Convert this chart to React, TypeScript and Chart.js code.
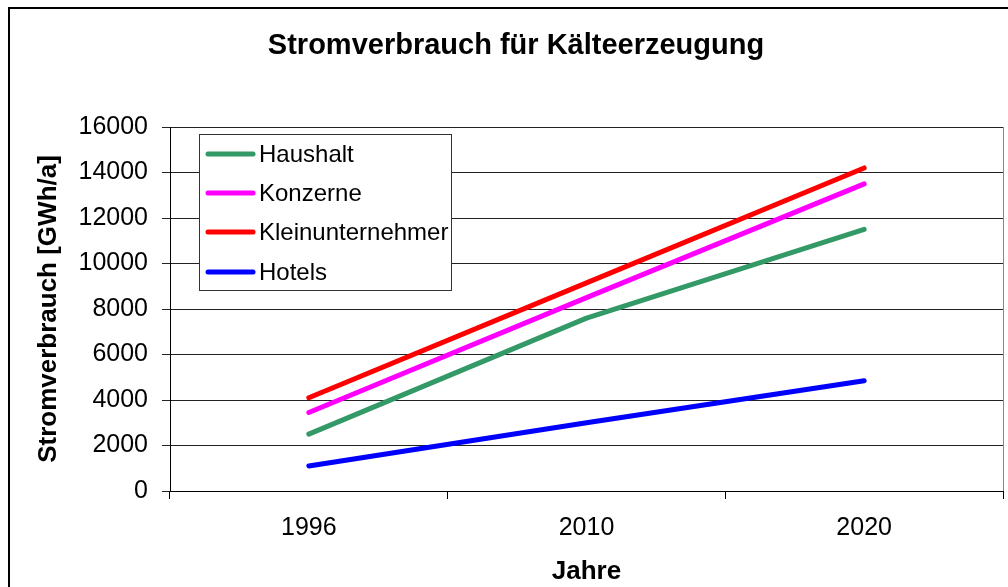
import React, { useEffect, useRef } from "react";
import { Chart, registerables } from "chart.js";

Chart.register(...registerables);

const categories = ["1996", "2010", "2020"];
const haushalt = [2500, 7600, 11500];
const konzerne = [3450, 8500, 13500];
const kleinunternehmer = [4100, 9150, 14200];
const hotels = [1100, 3000, 4850];
const seriesNames = ["Haushalt", "Konzerne", "Kleinunternehmer", "Hotels"];
const seriesColors = ["#339966", "#FF00FF", "#FF0000", "#0000FF"];
const chartTitle = "Stromverbrauch für Kälteerzeugung";
const yTitle = "Stromverbrauch [GWh/a]";
const xTitle = "Jahre";

const FONT = '"Liberation Sans", Arial, sans-serif';

const decorPlugin = {
  id: "decor",
  beforeDraw(chart: any) {
    const ctx = chart.ctx;
    ctx.save();
    ctx.fillStyle = "#fff";
    ctx.fillRect(0, 0, chart.width, chart.height);
    // outer frame (left & top visible)
    ctx.strokeStyle = "#000";
    ctx.lineWidth = 2;
    ctx.beginPath();
    ctx.moveTo(9, chart.height + 5);
    ctx.lineTo(9, 8);
    ctx.lineTo(chart.width + 5, 8);
    ctx.stroke();
    // title
    ctx.fillStyle = "#000";
    ctx.font = `bold 29px ${FONT}`;
    ctx.textAlign = "center";
    ctx.textBaseline = "middle";
    ctx.fillText(chartTitle, 516, 46);
    ctx.restore();
  },
  afterDraw(chart: any) {
    const ctx = chart.ctx;
    const area = chart.chartArea;
    ctx.save();
    // right border of plot area
    ctx.strokeStyle = "#888";
    ctx.lineWidth = 1;
    ctx.beginPath();
    ctx.moveTo(area.right + 0.5, area.top);
    ctx.lineTo(area.right + 0.5, area.bottom);
    ctx.stroke();
    // legend box
    const bx = 199.5, by = 134.5, bw = 252, bh = 156;
    ctx.fillStyle = "#fff";
    ctx.fillRect(bx, by, bw, bh);
    ctx.strokeStyle = "#333";
    ctx.strokeRect(bx, by, bw, bh);
    ctx.font = `24px ${FONT}`;
    ctx.textAlign = "left";
    ctx.textBaseline = "middle";
    const rows = [154, 193, 232, 272];
    chart.data.datasets.forEach((ds: any, i: number) => {
      const y = rows[i];
      ctx.strokeStyle = ds.borderColor;
      ctx.lineWidth = 5;
      ctx.lineCap = "round";
      ctx.beginPath();
      ctx.moveTo(208, y);
      ctx.lineTo(253, y);
      ctx.stroke();
      ctx.fillStyle = "#000";
      ctx.fillText(ds.label, 259, y + 1);
    });
    ctx.restore();
  },
};

export default function App() {
  const ref = useRef<HTMLCanvasElement | null>(null);
  useEffect(() => {
    if (!ref.current) return;
    const seriesData = [haushalt, konzerne, kleinunternehmer, hotels];
    const chart = new Chart(ref.current, {
      type: "line",
      data: {
        labels: categories,
        datasets: seriesData.map((d, i) => ({
          label: seriesNames[i],
          data: d,
          borderColor: seriesColors[i],
          backgroundColor: seriesColors[i],
          borderWidth: 5,
          borderCapStyle: "round",
          borderJoinStyle: "round",
          pointRadius: 0,
          tension: 0,
          fill: false,
        })),
      },
      options: {
        animation: false,
        responsive: false,
        devicePixelRatio: 1,
        layout: { padding: { top: 127, right: 5, left: 0, bottom: 0 } },
        plugins: {
          legend: { display: false },
          title: { display: false },
          tooltip: { enabled: false },
        },
        scales: {
          x: {
            type: "category",
            offset: true,
            grid: {
              offset: true,
              drawOnChartArea: false,
              tickLength: 8,
              color: "#000",
            },
            border: { color: "#000", width: 1 },
            ticks: {
              color: "#000",
              font: { family: FONT, size: 25 },
              padding: 14,
              maxRotation: 0,
            },
            title: {
              display: true,
              text: xTitle,
              color: "#000",
              font: { family: FONT, size: 26, weight: "bold" },
              padding: { top: 0, bottom: 0 },
            },
            afterFit(s: any) {
              s.height = 96;
            },
          },
          y: {
            min: 0,
            max: 16000,
            ticks: {
              stepSize: 2000,
              color: "#000",
              font: { family: FONT, size: 25 },
              padding: 14,
              callback: (v: any) => String(v),
            },
            grid: { color: "#222", tickLength: 8 },
            border: { color: "#000", width: 1 },
            title: {
              display: true,
              text: yTitle,
              color: "#000",
              font: { family: FONT, size: 26, weight: "bold" },
              padding: { top: 33, bottom: 0 },
            },
            afterFit(s: any) {
              s.width = 170;
            },
          },
        },
      },
      plugins: [decorPlugin],
    } as any);
    return () => chart.destroy();
  }, []);
  return (
    <div style={{ position: "absolute", left: 0, top: 0, width: 1008, height: 587 }}>
      <canvas ref={ref} width={1008} height={587} style={{ width: 1008, height: 587, display: "block" }} />
    </div>
  );
}
